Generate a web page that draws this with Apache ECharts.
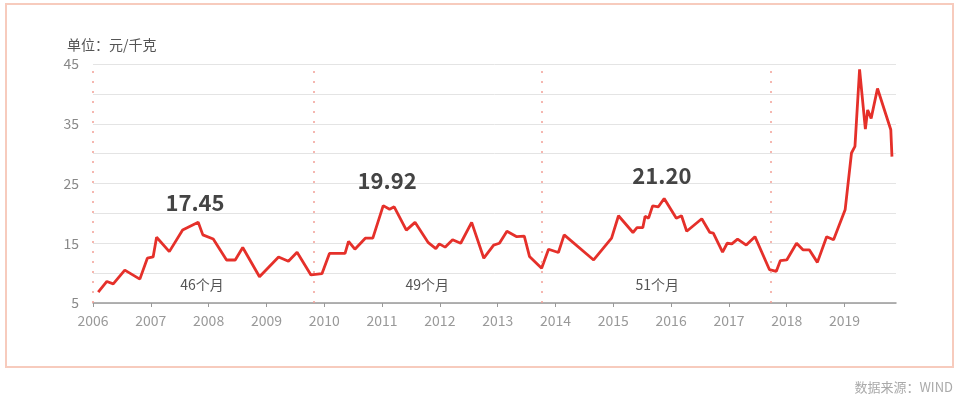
<!DOCTYPE html>
<html><head><meta charset="utf-8">
<script src="https://cdn.jsdelivr.net/npm/echarts@6/dist/echarts.min.js"></script>
<style>html,body{margin:0;padding:0;background:#fff}#c{width:958px;height:400px}</style>
</head><body><div id="c"></div>
<script>
// time in decimal years
const times = [2006.09,2006.24,2006.35,2006.55,2006.81,2006.94,2007.04,2007.10,2007.32,2007.55,2007.82,2007.90,2008.08,2008.31,2008.46,2008.59,2008.88,2009.21,2009.38,2009.53,2009.77,2009.96,2010.09,2010.36,2010.42,2010.53,2010.71,2010.84,2011.02,2011.13,2011.21,2011.42,2011.57,2011.80,2011.93,2011.99,2012.09,2012.22,2012.36,2012.55,2012.76,2012.93,2013.03,2013.16,2013.33,2013.46,2013.55,2013.76,2013.88,2014.05,2014.15,2014.66,2014.97,2015.09,2015.34,2015.41,2015.51,2015.55,2015.61,2015.68,2015.78,2015.88,2016.09,2016.18,2016.27,2016.53,2016.67,2016.73,2016.89,2016.97,2017.05,2017.15,2017.30,2017.45,2017.70,2017.82,2017.89,2018.00,2018.17,2018.28,2018.39,2018.53,2018.69,2018.81,2019.01,2019.12,2019.18,2019.26,2019.36,2019.40,2019.46,2019.57,2019.80,2019.82];
const prices = [6.8,8.6,8.2,10.5,9.0,12.5,12.7,16.0,13.6,17.2,18.5,16.4,15.7,12.2,12.2,14.3,9.4,12.7,12.0,13.5,9.7,9.9,13.3,13.3,15.3,14.0,15.85,15.85,21.3,20.7,21.1,17.2,18.5,15.1,14.1,14.9,14.35,15.6,15.0,18.5,12.5,14.7,15.0,17.0,16.1,16.2,12.8,10.8,14.0,13.45,16.4,12.2,15.85,19.6,16.8,17.6,17.6,19.5,19.2,21.25,21.1,22.5,19.2,19.6,17.0,19.1,16.8,16.7,13.5,15.0,14.9,15.7,14.7,16.1,10.6,10.3,12.1,12.2,15.0,13.9,13.9,11.8,16.1,15.6,20.6,30.1,31.2,44.1,34.1,37.3,35.9,40.9,34.0,29.5];
const yearTicks = [2006,2007,2008,2009,2010,2011,2012,2013,2014,2015,2016,2017,2018,2019];
const yLabels = [5,15,25,35,45];
const cycleBounds = [2006.0,2009.82,2013.76,2017.72];
const peakLabels = ['17.45','19.92','21.20'];
const peakPos = [[2007.765,21.75],[2011.087,25.43],[2015.84,26.27]];
const cycleLabels = ['46个月','49个月','51个月'];
const cyclePos = [[2007.886,8.0],[2011.78,8.0],[2015.76,8.0]];

const series = times.map((t,i)=>[t,prices[i]]);
const FONT = '"Noto Sans CJK SC","Noto Sans",sans-serif';

const mp = [];
peakLabels.forEach((s,i)=>mp.push({coord:peakPos[i],symbol:'rect',symbolSize:1,itemStyle:{color:'rgba(0,0,0,0)'},
  label:{show:true,position:'inside',formatter:s,fontSize:22,fontWeight:'bold',color:'#444',fontFamily:FONT}}));
cycleLabels.forEach((s,i)=>mp.push({coord:cyclePos[i],symbol:'rect',symbolSize:1,itemStyle:{color:'rgba(0,0,0,0)'},
  label:{show:true,position:'inside',formatter:s,fontSize:14,color:'#555',fontFamily:FONT}}));

const chart = echarts.init(document.getElementById('c'));
chart.setOption({
  animation:false,
  backgroundColor:'#fff',
  title:{text:'单位：元/千克',left:62,top:33,textStyle:{fontSize:14,fontWeight:'normal',color:'#555',fontFamily:FONT}},
  graphic:[
    {type:'rect',shape:{x:6,y:4,width:947,height:363},style:{fill:'none',stroke:'#f7cbbd',lineWidth:2},silent:true},
    {type:'text',right:5,top:381,style:{text:'数据来源：WIND',fontSize:13,fill:'#aaa',fontFamily:FONT}}
  ],
  grid:{left:93,right:62,top:64,bottom:97},
  xAxis:{type:'value',min:2006,max:2019.89,
    axisLine:{show:true,lineStyle:{color:'#999',width:1.5}},
    axisTick:{show:true,customValues:yearTicks,length:4,lineStyle:{color:'#999'}},
    axisLabel:{customValues:yearTicks,fontSize:14,color:'#999',margin:11,fontFamily:FONT,formatter:v=>String(v)},
    splitLine:{show:false}},
  yAxis:{type:'value',min:5,max:45,interval:5,
    axisLine:{show:false},axisTick:{show:false},
    axisLabel:{customValues:yLabels,fontSize:14,color:'#888',margin:14,fontFamily:FONT},
    splitLine:{show:true,lineStyle:{color:'#e4e4e4',width:1}}},
  series:[{type:'line',data:series,symbol:'none',
    lineStyle:{color:'#e5302a',width:2.8},
    markLine:{silent:true,symbol:'none',label:{show:false},
      lineStyle:{color:'#f2a096',type:[2,8],width:1.5},
      data:cycleBounds.map(x=>({xAxis:x}))},
    markPoint:{silent:true,data:mp}
  }]
});
</script></body></html>
